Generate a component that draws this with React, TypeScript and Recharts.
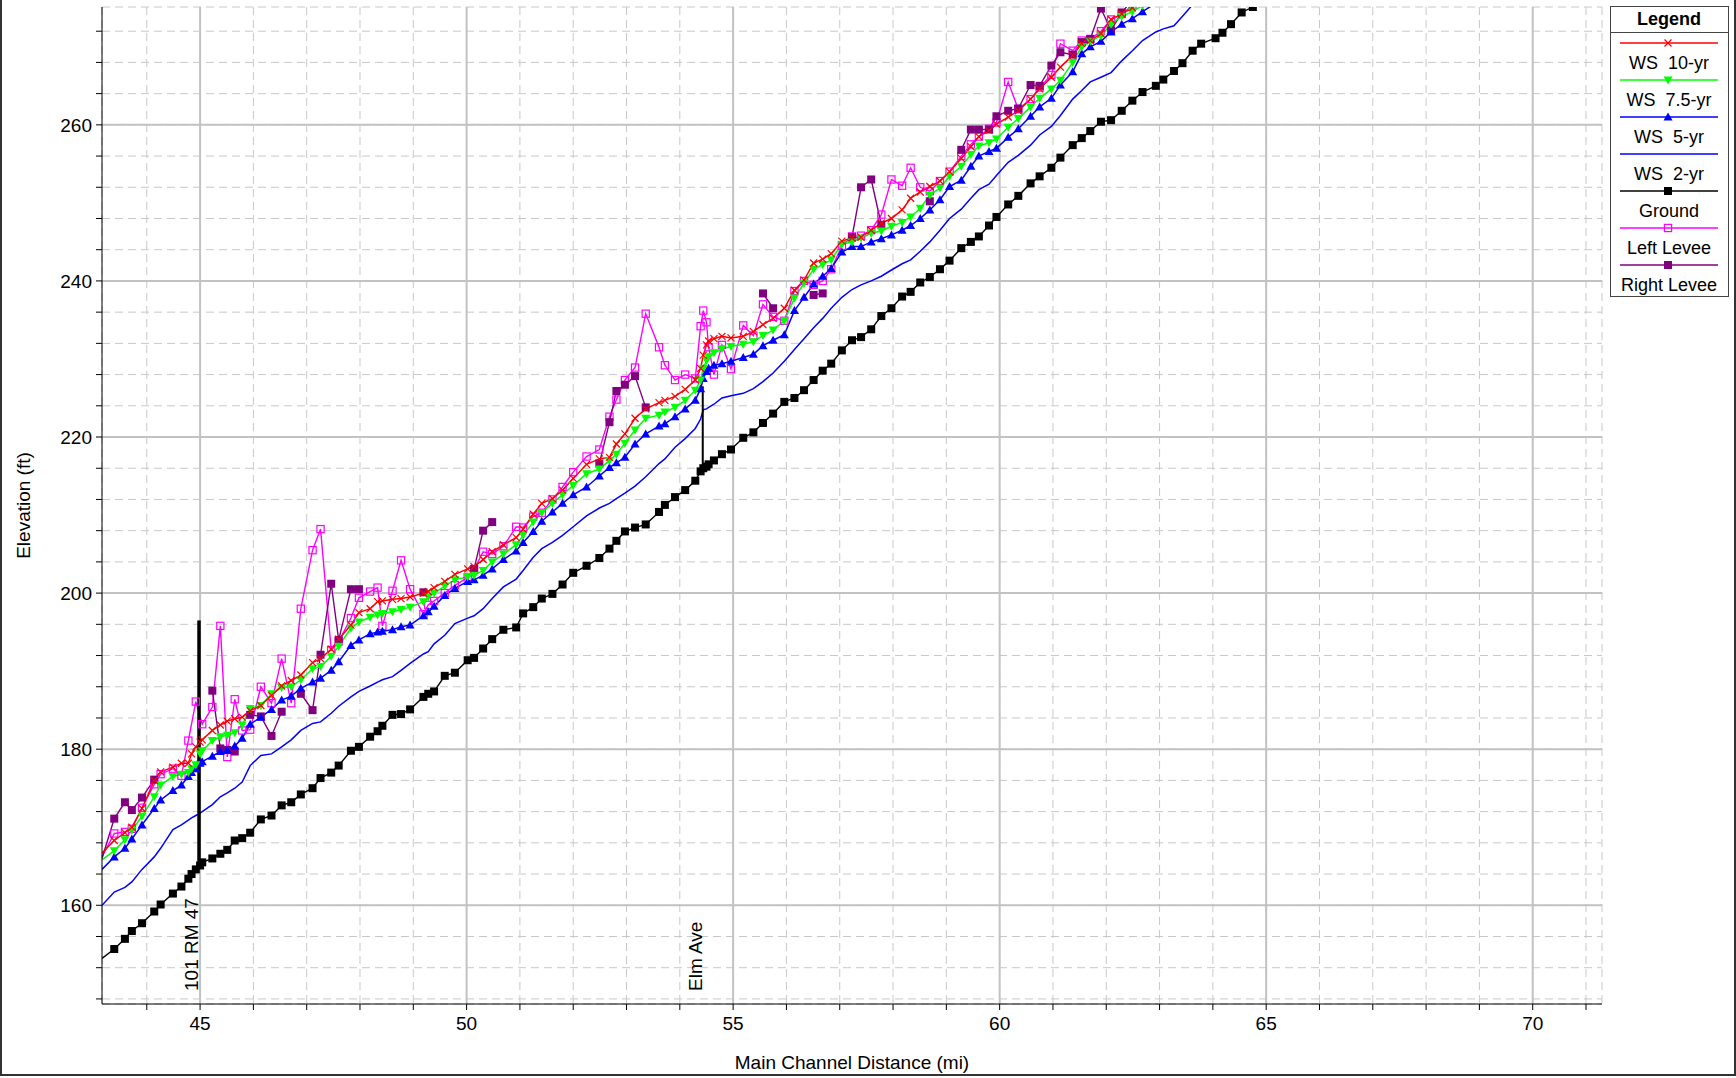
import React from 'react'
import {
  LineChart, Line, XAxis, YAxis, CartesianGrid, ReferenceLine,
} from 'recharts'

// river stations (mi) shared by every profile
const stations = [
  43.16, 43.39, 43.59, 43.72, 43.91, 44.14, 44.26, 44.49, 44.65, 44.78,
  44.84, 44.92, 45.0, 45.04, 45.23, 45.38, 45.51, 45.65, 45.79, 45.94,
  46.14, 46.34, 46.53, 46.71, 46.89, 47.11, 47.26, 47.46, 47.6, 47.83,
  47.98, 48.19, 48.33, 48.42, 48.61, 48.77, 48.94, 49.19, 49.28, 49.39,
  49.59, 49.78, 50.02, 50.14, 50.31, 50.48, 50.69, 50.93, 51.06, 51.25,
  51.41, 51.61, 51.8, 52.0, 52.25, 52.49, 52.68, 52.81, 52.97, 53.16,
  53.36, 53.61, 53.72, 53.91, 54.1, 54.29, 54.39, 54.44, 54.5, 54.54,
  54.64, 54.79, 54.96, 55.19, 55.38, 55.56, 55.75, 55.96, 56.15, 56.33,
  56.51, 56.68, 56.84, 57.04, 57.23, 57.4, 57.59, 57.78, 57.97, 58.17,
  58.33, 58.51, 58.69, 58.88, 59.06, 59.28, 59.46, 59.61, 59.8, 59.94,
  60.16, 60.35, 60.58, 60.75, 60.97, 61.14, 61.37, 61.54, 61.7, 61.9,
  62.09, 62.29, 62.49, 62.68, 62.93, 63.07, 63.27, 63.43, 63.62, 63.78,
  64.05, 64.18, 64.34, 64.54, 64.75, 64.95,
]

const ground = [
  153.2, 154.4, 155.7, 156.7, 157.7, 159.2, 160.1, 161.5, 162.4, 163.4,
  164.0, 164.6, 165.1, 165.5, 166.0, 166.6, 167.1, 168.3, 168.6, 169.3,
  171.0, 171.5, 172.8, 173.2, 174.2, 175.0, 176.3, 177.0, 177.9, 179.8,
  180.3, 181.6, 182.3, 183.0, 184.4, 184.5, 185.1, 186.7, 187.1, 187.4,
  189.4, 189.8, 191.4, 191.7, 192.9, 194.1, 195.3, 195.6, 197.4, 198.2,
  199.3, 199.9, 201.1, 202.6, 203.5, 204.5, 205.7, 206.7, 207.9, 208.4,
  208.8, 210.4, 211.3, 212.3, 213.2, 214.4, 215.6, 216.0, 216.2, 216.5,
  217.0, 217.8, 218.4, 219.9, 220.6, 221.8, 223.0, 224.5, 225.0, 226.0,
  227.3, 228.5, 229.4, 231.1, 232.4, 232.8, 233.8, 235.5, 236.5, 238.0,
  238.6, 239.8, 240.5, 241.5, 242.6, 244.2, 245.0, 245.7, 247.1, 248.2,
  249.8, 250.9, 252.5, 253.4, 254.5, 255.8, 257.4, 258.3, 259.2, 260.4,
  260.6, 261.8, 263.1, 264.2, 265.0, 265.8, 266.9, 267.9, 269.5, 270.4,
  271.1, 271.8, 272.9, 274.4, 275.1, 276.2,
]

const ws2 = [
  160.0, 161.7, 162.3, 163.0, 164.6, 166.2, 167.3, 169.7, 170.3, 170.9,
  171.2, 171.5, 171.8, 172.0, 172.9, 173.9, 174.4, 175.0, 175.8, 177.9,
  179.2, 179.4, 180.3, 181.2, 182.4, 183.3, 183.5, 184.6, 185.5, 186.7,
  187.4, 188.1, 188.6, 188.9, 189.3, 190.1, 191.0, 192.2, 192.5, 193.5,
  194.6, 196.1, 196.8, 197.1, 198.0, 199.3, 200.8, 201.8, 202.9, 204.6,
  205.7, 206.5, 207.4, 208.5, 209.9, 210.9, 211.5, 212.1, 212.8, 213.7,
  214.9, 216.6, 217.2, 218.7, 219.8, 221.1, 222.3, 223.5, 223.6, 223.8,
  224.2, 225.0, 225.3, 225.6, 226.2, 227.1, 228.2, 229.7, 231.2, 232.6,
  234.0, 235.2, 236.5, 237.9, 238.9, 239.5, 240.0, 240.6, 241.4, 242.2,
  242.7, 243.8, 245.0, 246.5, 248.0, 249.2, 250.6, 251.7, 252.4, 253.5,
  255.2, 256.1, 257.4, 258.7, 259.8, 261.2, 263.3, 264.4, 265.5, 266.1,
  266.7, 268.2, 269.5, 270.8, 271.9, 272.3, 272.7, 273.9, 275.4, 276.3,
]

const ws5 = [
  164.6, 166.2, 167.3, 168.5, 170.3, 172.4, 173.5, 174.7, 175.4, 176.5,
  177.0, 177.5, 178.2, 178.4, 179.1, 179.7, 179.9, 180.4, 181.4, 183.2,
  184.1, 185.1, 186.3, 186.8, 187.8, 188.6, 189.1, 190.1, 191.2, 193.3,
  194.0, 194.8, 195.0, 195.1, 195.3, 195.7, 195.9, 197.1, 197.6, 198.3,
  199.7, 200.6, 201.5, 201.7, 202.3, 203.1, 204.3, 205.4, 206.5, 207.9,
  209.2, 210.4, 211.5, 212.6, 213.6, 215.0, 216.1, 216.7, 217.4, 219.1,
  220.4, 221.4, 221.7, 222.6, 223.6, 224.7, 226.2, 227.5, 228.4, 228.8,
  229.2, 229.4, 229.7, 230.2, 230.6, 231.7, 232.4, 233.1, 236.2, 237.9,
  239.6, 240.6, 241.6, 243.7, 244.4, 244.4, 245.0, 245.4, 245.9, 246.5,
  247.1, 248.0, 249.1, 250.4, 252.1, 252.9, 254.7, 256.0, 256.6, 257.0,
  258.4, 259.5, 261.1, 262.3, 263.4, 265.1, 266.8, 269.1, 270.0, 270.7,
  271.9, 272.9, 273.6, 274.5, 275.6,
]

const ws75 = [
  165.8, 167.0, 168.4, 169.6, 171.4, 173.9, 175.4, 176.5, 176.8, 177.0,
  177.5, 178.0, 179.4, 179.8, 181.1, 181.6, 181.8, 182.1, 183.1, 185.2,
  185.6, 187.1, 187.9, 188.0, 188.9, 190.3, 190.6, 191.9, 193.2, 195.5,
  196.3, 196.9, 197.2, 197.4, 197.6, 197.9, 198.2, 198.9, 199.5, 200.0,
  200.9, 201.7, 202.1, 202.3, 202.9, 204.0, 205.0, 206.2, 207.4, 209.1,
  210.3, 211.5, 212.6, 213.8, 215.3, 215.9, 217.0, 217.8, 219.2, 220.9,
  222.4, 222.8, 223.2, 223.8, 224.7, 226.0, 227.3, 228.8, 229.8, 230.3,
  230.8, 231.3, 231.6, 231.9, 232.2, 233.0, 233.7, 234.9, 237.8, 239.7,
  241.5, 242.1, 242.7, 244.7, 245.0, 245.5, 246.1, 246.4, 247.0, 247.5,
  248.2, 249.3, 251.0, 251.9, 253.4, 254.7, 256.2, 257.3, 257.7, 258.2,
  259.7, 260.8, 262.3, 263.4, 264.6, 265.7, 268.0, 270.0, 270.7, 271.4,
  272.9, 273.9, 274.5, 275.3, 276.2,
]

const ws10 = [
  166.7, 168.3, 169.3, 170.0, 172.4, 176.0, 177.1, 177.7, 178.2, 178.2,
  179.4, 180.3, 180.9, 181.2, 182.4, 183.1, 183.6, 183.9, 184.1, 184.9,
  185.6, 186.9, 188.1, 188.8, 189.5, 191.1, 191.6, 192.8, 194.1, 195.9,
  197.5, 198.0, 198.9, 199.0, 199.2, 199.3, 199.5, 200.0, 200.2, 200.7,
  201.5, 202.4, 203.1, 203.4, 204.3, 205.3, 206.2, 207.1, 208.2, 210.1,
  211.5, 212.1, 213.2, 214.7, 216.5, 217.2, 217.4, 219.1, 220.4, 222.4,
  223.6, 224.4, 224.7, 225.2, 226.1, 227.3, 228.8, 230.5, 231.8, 232.3,
  232.6, 232.9, 232.7, 232.9, 233.5, 234.4, 235.2, 236.5, 238.8, 240.1,
  242.3, 242.8, 243.5, 245.1, 245.5, 245.6, 246.5, 247.4, 248.0, 249.1,
  250.6, 251.4, 252.1, 252.8, 254.0, 255.7, 257.2, 258.5, 259.3, 260.1,
  261.0, 261.8, 263.3, 264.6, 266.1, 267.4, 268.9, 270.4, 270.8, 271.7,
  273.5, 274.2, 275.0, 276.0,
]

const leftLevee = [
  166.2, 169.2, 169.4, 169.8, 172.5, 175.5, 176.8, 177.5, 176.6, 181.1,
  null, 186.1, null, 183.2, 185.4, 195.8, 179.0, 186.4, 182.4, 182.5,
  188.0, 185.9, 191.6, 185.9, 198.0, 205.5, 208.2, 192.7, 193.8, 196.8,
  199.4, 200.2, 200.7, 195.8, 200.3, 204.2, 200.5, 197.3, 198.5, 199.0,
  200.0, 201.0, 202.0, 203.0, 205.3, 205.0, 206.0, 208.5, 208.4, 209.8,
  210.3, 212.0, 213.6, 215.5, 217.5, 218.4, 222.6, 224.8, 227.3, 228.9,
  235.8, 231.5, 229.2, 227.3, 228.0, 227.5, 234.2, 236.2, 234.7, 231.5,
  228.0, 231.8, 228.7, 234.3, 233.0, 237.0, 235.4, 234.9, 238.7, 240.0,
  239.5, 240.0, 241.5, 244.5, 245.7, 245.8, 246.5, 248.5, 253.0, 252.2,
  254.5, 252.0, 251.5, 252.8, 254.0, 256.0, 257.5, 258.5, 259.5, 260.3,
  265.5, 262.0, 263.3, 264.8, 266.4, 270.4, 269.5, 270.8, 271.0, 272.0,
  273.5, 274.2, 275.3,
]

const rightLevee = [
  166.0, 171.1, 173.2, 172.2, 173.8, 176.1, null, null, null, null,
  null, null, null, null, 187.5, 180.1, 179.9, 179.7, null, 184.4,
  184.2, 181.7, 184.8, null, 187.1, 185.0, 192.1, 201.2, 194.0, 200.5,
  200.5, null, null, null, null, null, null, 200.1, null, null,
  null, null, null, 203.1, 208.0, 209.1, null, null, null, null,
  null, null, null, null, null, 216.6, 221.9, 225.9, 226.7, 227.8,
  223.8, null, null, null, null, null, null, null, null, null,
  null, null, null, null, null, 238.4, 236.5, null, null, null,
  238.2, 238.4, null, null, 245.6, 252.0, 253.0, 247.2, null, null,
  null, null, 250.2, null, null, 256.8, 259.4, 259.4, 259.4, 261.1,
  261.8, 262.1, 265.1, 265.0, 267.6, 269.3, 269.0, 270.6, 271.0, 274.9,
  272.1, 274.4, 276.0,
]

// bridges / structures: station, low and high elevation, label
const structures = [
  { mi: 44.98, low: 165.2, high: 196.5, name: '101 RM 47', width: 3.5 },
  { mi: 54.43, low: 215.8, high: 226.5, name: 'Elm Ave', width: 2 },
]

const xTicks = [44, 45, 46, 47, 48, 49, 50, 51, 52, 53, 54, 55, 56, 57, 58, 59, 60, 61, 62, 63, 64, 65, 66, 67, 68, 69, 70, 71]
const xMajor = [45, 50, 55, 60, 65, 70]
const yTicks = [148, 152, 156, 160, 164, 168, 172, 176, 180, 184, 188, 192, 196, 200, 204, 208, 212, 216, 220, 224, 228, 232, 236, 240, 244, 248, 252, 256, 260, 264, 268, 272]
const yMajor = [160, 180, 200, 220, 240, 260]

const data = stations.map((mi, i) => ({
  mi,
  ground: ground[i] ?? null,
  ws2: ws2[i] ?? null,
  ws5: ws5[i] ?? null,
  ws75: ws75[i] ?? null,
  ws10: ws10[i] ?? null,
  left: leftLevee[i] ?? null,
  right: rightLevee[i] ?? null,
}))

const FONT = '"Liberation Sans", Arial, sans-serif'

function marker(kind: string, color: string, cx: number, cy: number, key?: string) {
  if (kind === 'x') {
    return (
      <g key={key}>
        <line x1={cx - 3.5} y1={cy - 3.5} x2={cx + 3.5} y2={cy + 3.5} stroke={color} strokeWidth={1.2} />
        <line x1={cx - 3.5} y1={cy + 3.5} x2={cx + 3.5} y2={cy - 3.5} stroke={color} strokeWidth={1.2} />
      </g>
    )
  }
  if (kind === 'down') {
    return <polygon key={key} points={`${cx - 4.5},${cy - 3.5} ${cx + 4.5},${cy - 3.5} ${cx},${cy + 4.5}`} fill={color} />
  }
  if (kind === 'up') {
    return <polygon key={key} points={`${cx - 4.5},${cy + 3.5} ${cx + 4.5},${cy + 3.5} ${cx},${cy - 4.5}`} fill={color} />
  }
  if (kind === 'square') {
    return <rect key={key} x={cx - 4} y={cy - 4} width={8} height={8} fill={color} />
  }
  if (kind === 'hollow') {
    return <rect key={key} x={cx - 3.6} y={cy - 3.6} width={7.2} height={7.2} fill="none" stroke={color} strokeWidth={1.2} />
  }
  return <g key={key} />
}

const dotOf = (kind: string, color: string) => (p: any) => {
  const { cx, cy, index, value } = p
  const key = `${kind}-${color}-${index}`
  if (index === 0 || value == null || cx == null || cy == null) return <g key={key} />
  return marker(kind, color, cx, cy, key)
}

const XTitle = (p: any) => {
  const vb = p.viewBox || {}
  return (
    <text x={vb.x + vb.width / 2} y={vb.y + 65} textAnchor="middle" fontSize={19} fontFamily={FONT} fill="#000">
      Main Channel Distance (mi)
    </text>
  )
}

const YTitle = (p: any) => {
  const vb = p.viewBox || {}
  const cy = vb.y + vb.height / 2
  return (
    <text transform={`translate(30, ${cy}) rotate(-90)`} textAnchor="middle" fontSize={19} fontFamily={FONT} fill="#000">
      Elevation (ft)
    </text>
  )
}

const StructLabel = (p: any) => {
  const vb = p.viewBox || {}
  return (
    <text
      transform={`translate(${vb.x - 1}, ${vb.y + vb.height - 13}) rotate(-90)`}
      textAnchor="start"
      fontSize={19}
      fontFamily={FONT}
      fill="#000"
    >
      {p.text}
    </text>
  )
}

const legendItems = [
  { name: 'WS  10-yr', color: '#ff0000', kind: 'x' },
  { name: 'WS  7.5-yr', color: '#00ff00', kind: 'down' },
  { name: 'WS  5-yr', color: '#0000ff', kind: 'up' },
  { name: 'WS  2-yr', color: '#0000ff', kind: 'none' },
  { name: 'Ground', color: '#000000', kind: 'square' },
  { name: 'Left Levee', color: '#ff00ff', kind: 'hollow' },
  { name: 'Right Levee', color: '#800080', kind: 'square' },
]

function ChartLegend() {
  return (
    <svg
      width={119}
      height={291}
      style={{ position: 'absolute', left: 1610, top: 6, background: '#fff', overflow: 'visible' }}
    >
      <rect x={0.5} y={0.5} width={118} height={290} fill="#fff" stroke="#444" />
      <text x={59} y={19} textAnchor="middle" fontSize={18} fontWeight="bold" fontFamily={FONT}>Legend</text>
      <line x1={0} y1={26.5} x2={119} y2={26.5} stroke="#444" />
      {legendItems.map((it, i) => {
        const ly = 37 + i * 37
        return (
          <g key={it.name}>
            <line x1={10} y1={ly} x2={108} y2={ly} stroke={it.color} strokeWidth={1.5} />
            {it.kind !== 'none' && marker(it.kind, it.color, 58, ly)}
            <text
              x={59}
              y={ly + 26}
              textAnchor="middle"
              fontSize={18}
              fontFamily={FONT}
              fill="#000"
              style={{ whiteSpace: 'pre' }}
            >
              {it.name}
            </text>
          </g>
        )
      })}
    </svg>
  )
}

export default function App() {
  return (
    <div style={{ position: 'absolute', left: 0, top: 0, width: 1736, height: 1078, background: '#fff' }}>
      <LineChart
        width={1736}
        height={1078}
        data={data}
        margin={{ top: 7, right: 134, bottom: 0, left: 0 }}
      >
        <CartesianGrid stroke="#c8c8c8" strokeDasharray="8 5" />
        <CartesianGrid
          stroke="#c2c2c2"
          strokeWidth={2}
          verticalValues={xMajor}
          horizontalValues={yMajor}
        />
        <XAxis
          dataKey="mi"
          type="number"
          domain={[43.16, 71.3]}
          allowDataOverflow
          ticks={xTicks}
          interval={0}
          tickFormatter={(v: number) => (xMajor.includes(v) ? String(v) : '')}
          tick={{ fontSize: 19, fill: '#000', fontFamily: FONT }}
          tickSize={6}
          tickMargin={7}
          axisLine={{ stroke: '#000' }}
          tickLine={{ stroke: '#000' }}
          height={74}
          label={<XTitle />}
        />
        <YAxis
          type="number"
          domain={[147.35, 275.1]}
          allowDataOverflow
          ticks={yTicks}
          interval={0}
          tickFormatter={(v: number) => (yMajor.includes(v) ? String(v) : '')}
          tick={{ fontSize: 19, fill: '#000', fontFamily: FONT }}
          tickSize={6}
          tickMargin={4}
          axisLine={{ stroke: '#000' }}
          tickLine={{ stroke: '#000' }}
          width={102}
          label={<YTitle />}
        />
        <Line dataKey="left" stroke="#ff00ff" strokeWidth={1.4} dot={dotOf('hollow', '#ff00ff')} activeDot={false} connectNulls isAnimationActive={false} />
        <Line dataKey="right" stroke="#800080" strokeWidth={1.4} dot={dotOf('square', '#800080')} activeDot={false} isAnimationActive={false} />
        <Line dataKey="ws2" stroke="#0000ff" strokeWidth={1.5} dot={false} activeDot={false} isAnimationActive={false} />
        <Line dataKey="ws5" stroke="#0000ff" strokeWidth={1.5} dot={dotOf('up', '#0000ff')} activeDot={false} isAnimationActive={false} />
        <Line dataKey="ws75" stroke="#00ff00" strokeWidth={1.5} dot={dotOf('down', '#00ff00')} activeDot={false} isAnimationActive={false} />
        <Line dataKey="ws10" stroke="#ff0000" strokeWidth={1.5} dot={dotOf('x', '#ff0000')} activeDot={false} isAnimationActive={false} />
        <Line dataKey="ground" stroke="#000000" strokeWidth={1.4} dot={dotOf('square', '#000000')} activeDot={false} isAnimationActive={false} />
        {structures.map(s => (
          <ReferenceLine
            key={s.name + '-seg'}
            segment={[{ x: s.mi, y: s.low }, { x: s.mi, y: s.high }]}
            stroke="#000"
            strokeWidth={s.width}
          />
        ))}
        {structures.map(s => (
          <ReferenceLine key={s.name} x={s.mi} stroke="none" label={<StructLabel text={s.name} />} />
        ))}
      </LineChart>
      <ChartLegend />
      <div
        style={{
          position: 'absolute', left: 0, top: 0, width: 1736, height: 1076,
          boxSizing: 'border-box', borderLeft: '2px solid #333', borderRight: '2px solid #333',
          borderBottom: '2px solid #333', pointerEvents: 'none',
        }}
      />
    </div>
  )
}
